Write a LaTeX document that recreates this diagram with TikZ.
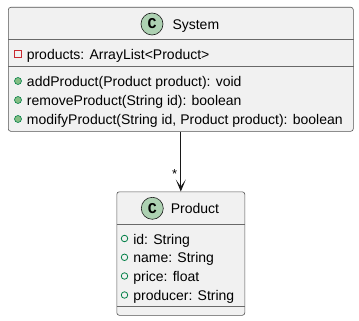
\documentclass[tikz,border=0pt]{standalone}
\usepackage{fontspec}
\setmainfont{Liberation Sans}
\newfontfamily\iconfont{Liberation Mono}
\usetikzlibrary{positioning, arrows.meta}

\definecolor{umlfill}{HTML}{F1F1F1}
\definecolor{umlline}{HTML}{181818}
\definecolor{umlicon}{HTML}{ADD1B2}
\definecolor{privred}{HTML}{C82930}
\definecolor{pubgreen}{HTML}{038048}
\definecolor{pubfill}{HTML}{84BE84}

\begin{document}
\begin{tikzpicture}[x=1pt, y=-1pt,
        classbox/.style={draw=umlline!75, fill=umlfill, rounded corners=2.5pt, line width=0.6pt, inner sep=0pt, anchor=north west},
        sep/.style={draw=umlline!65, line width=0.6pt},
        classicon/.style={circle, draw=umlline, fill=umlicon, line width=0.6pt, minimum size=22pt, inner sep=0pt, font=\iconfont\bfseries\fontsize{15}{15}\selectfont},
        classname/.style={anchor=west, inner sep=0pt, font=\fontsize{14}{14}\selectfont, text height=12pt, text depth=1pt},
        member/.style={anchor=west, inner sep=0pt, font=\fontsize{14}{14}\selectfont, text height=12pt, text depth=1pt},
        privattr/.style={rectangle, draw=privred, line width=0.7pt, minimum size=6.5pt, inner sep=0pt},
        pubattr/.style={circle, draw=pubgreen, line width=0.8pt, minimum size=6.5pt, inner sep=0pt},
        pubmeth/.style={circle, draw=pubgreen, fill=pubfill, line width=0.6pt, minimum size=7pt, inner sep=0pt},
        assoc/.style={-{Stealth[length=12pt, width=10pt, inset=7pt]}, draw=umlline, line width=0.8pt}
    ]
    \useasboundingbox (0,0) rectangle (359,321);

    % System class
    \node[classbox, minimum width=345pt, minimum height=124pt] (system) at (8,7) {};
    \draw[sep] (system.west |- 0,39) -- (system.east |- 0,39);
    \draw[sep] (system.west |- 0,66) -- (system.east |- 0,66);
    \node[classicon] (sysicon) at (152,24) {C};
    \node[classname, right=9pt of sysicon] (sysname) {System};

    \node[privattr] (prodsicon) at (18,54) {};
    \node[member, right=5pt of prodsicon] (prods) {products: ArrayList<Product>};

    \node[pubmeth] (addicon) at (18,81) {};
    \node[member, right=5pt of addicon] (add) {addProduct(Product product): void};
    \node[pubmeth] (removeicon) at (18,100) {};
    \node[member, right=5pt of removeicon] (remove) {removeProduct(String id): boolean};
    \node[pubmeth] (modifyicon) at (18,119) {};
    \node[member, right=5pt of modifyicon] (modify) {modifyProduct(String id, Product product): boolean};

    % Product class
    \node[classbox, minimum width=128pt, minimum height=123.5pt] (product) at (116.5,191.5) {};
    \draw[sep] (product.west |- 0,224) -- (product.east |- 0,224);
    \draw[sep] (product.west |- 0,306) -- (product.east |- 0,306);
    \node[classicon] (prodicon) at (152.3,208.3) {C};
    \node[classname, right=7pt of prodicon] (prodname) {Product};

    \node[pubattr] (idicon) at (124.5,238.5) {};
    \node[member, right=5pt of idicon] (id) {id: String};
    \node[pubattr] (nameicon) at (124.5,257.3) {};
    \node[member, right=5pt of nameicon] (name) {name: String};
    \node[pubattr] (priceicon) at (124.5,276) {};
    \node[member, right=5pt of priceicon] (price) {price: float};
    \node[pubattr] (producericon) at (124.5,295) {};
    \node[member, right=5pt of producericon] (producer) {producer: String};

    % association
    \draw[assoc] (system) -- (product)
        node[pos=0.7, left=0pt, font=\fontsize{13}{13}\selectfont] (mult) {*};

\end{tikzpicture}
\end{document}
